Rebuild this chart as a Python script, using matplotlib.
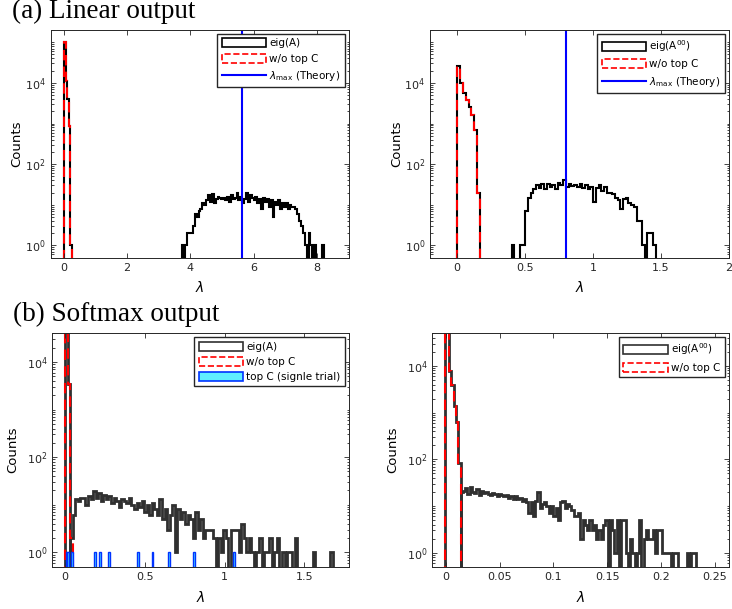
import numpy as np
import matplotlib
matplotlib.use('Agg')
import matplotlib.pyplot as plt
from matplotlib.patches import Patch
from matplotlib.lines import Line2D
from matplotlib.ticker import LogLocator, NullFormatter, FuncFormatter

plt.rcParams['font.family'] = ['DejaVu Sans']
plt.rcParams['mathtext.fontset'] = 'dejavusans'

# ---- (a) Linear output, left : eig(A) ----
tl_spike_start, tl_spike_w = 0.0, 0.05
tl_spike = [1e5, 1.1e4, 4e3, 850, 1]            # also "w/o top C"
tl_bulk_start, tl_bulk_w = 3.72, 0.06
tl_bulk = [1, 0, 1, 2, 2, 2, 3, 6, 5, 7, 8, 11, 10, 13, 17, 12, 18, 11, 14, 16,
           15, 14, 15, 13, 16, 12, 17, 14, 15, 19, 13, 16, 11, 14, 19, 12, 17, 15, 13, 16,
           11, 14, 8, 15, 12, 14, 9, 13, 5, 12, 10, 13, 8, 11, 9, 11, 8, 10, 9, 9,
           8, 6, 4, 3, 2, 1, 0, 2, 1, 0, 1, 0, 0, 0, 1]
tl_theory = 5.62

# ---- (a) Linear output, right : eig(A^00) ----
tr_spike_start, tr_spike_w = 0.0, 0.021
tr_spike = [2.6e4, 9.7e3, 5.6e3, 3.8e3, 2.5e3, 1.6e3, 700, 20]
tr_bulk_start, tr_bulk_w = 0.40, 0.02
tr_bulk = [1, 0, 0, 1, 1, 7, 15, 20, 24, 30, 26, 32, 25, 33, 27, 31, 25, 34, 31, 40,
           28, 33, 29, 31, 27, 33, 26, 30, 24, 28, 12, 26, 30, 22, 27, 20, 19, 18, 15, 13,
           8, 14, 15, 11, 10, 9, 4, 4, 1, 0, 2, 2, 1]
tr_theory = 0.80

# ---- (b) Softmax output, left : eig(A) ----
bl_spike_start, bl_spike_w = 0.0, 0.016
bl_spike = [1e5, 3.5e3]
bl_red = [1e5, 3.5e3, 2]
bl_bulk_start, bl_bulk_w = 0.032, 0.016
bl_bulk = [2, 6, 13, 12, 14, 14, 10, 15, 13, 19, 14, 18, 12, 16, 13, 15, 11, 14, 12, 9,
           13, 12, 11, 14, 10, 8, 11, 9, 12, 7, 10, 6, 11, 8, 6, 13, 5, 8, 3, 6,
           10, 1, 8, 5, 7, 4, 6, 5, 2, 7, 3, 5, 2, 3, 3, 3, 2, 0, 2, 1,
           3, 2, 0, 3, 3, 3, 1, 4, 2, 1, 2, 1, 0, 1, 2, 0, 1, 1, 2, 0,
           1, 2, 0, 1, 0, 1, 1, 0, 2, 0, 0, 0, 0, 0, 0, 1, 0, 0, 0, 0,
           0, 0, 1]
bl_topc = [0.010, 0.020, 0.045, 0.188, 0.220, 0.276, 0.460, 0.548, 0.653, 0.806, 1.057]
bl_topc_counts = [1, 1, 1, 1, 1, 1, 1, 1, 1, 1, 1]
bl_topc_w = 0.012

# ---- (b) Softmax output, right : eig(A^00) ----
br_spike_start, br_spike_w = -0.001, 0.0021
br_spike = [2e5, 6e4, 7.8e3, 4e3, 1.4e3, 620, 83]
br_bulk_start, br_bulk_w = 0.0137, 0.0021
br_bulk = [20, 21, 24, 18, 25, 20, 19, 23, 17, 21, 19, 20, 18, 17, 19, 18, 16, 18, 17, 16,
           17, 15, 16, 14, 16, 14, 15, 13, 14, 12, 7, 12, 6, 13, 20, 9, 11, 12, 10, 7,
           10, 6, 9, 5, 12, 13, 9, 11, 10, 8, 6, 6, 7, 2, 5, 4, 3, 5, 3, 4,
           2, 3, 2, 4, 5, 0, 5, 3, 1, 5, 0, 5, 5, 1, 0, 2, 1, 0, 1, 5,
           0, 2, 3, 2, 2, 3, 1, 3, 3, 1, 1, 1, 1, 0, 1, 1, 0, 0, 0, 0,
           1, 0, 1, 1]

FLOOR = 1e-2


def hist(ax, start, width, counts, **kw):
    counts = np.asarray(counts, dtype=float)
    edges = start + width * np.arange(len(counts) + 1)
    ax.stairs(np.maximum(counts, FLOOR), edges, baseline=FLOOR, **kw)


def style(ax, xlim, ylim, xticks, ylab_x, xlab_y):
    ax.set_yscale('log')
    ax.set_xlim(*xlim)
    ax.set_ylim(*ylim)
    ax.set_xticks(xticks)
    ax.xaxis.set_major_formatter(FuncFormatter(lambda v, p: '%g' % v))
    ax.set_yticks([1, 1e2, 1e4])
    ax.yaxis.set_minor_locator(LogLocator(base=10, subs=np.arange(1, 10), numticks=100))
    ax.yaxis.set_minor_formatter(NullFormatter())
    ax.tick_params(which='both', direction='in', top=True, right=True,
                   labelsize=8, colors='#262626', width=0.6)
    ax.tick_params(which='major', length=3.5)
    ax.tick_params(which='minor', length=1.8)
    for s in ax.spines.values():
        s.set_color('#262626')
        s.set_linewidth(0.7)
    ax.set_ylabel('Counts', fontsize=9.5)
    ax.set_xlabel(r'$\lambda$', fontsize=10)
    ax.yaxis.set_label_coords(ylab_x, 0.5)
    ax.xaxis.set_label_coords(0.5, xlab_y)


W, H = 732, 609
fig = plt.figure(figsize=(W / 100, H / 100), dpi=100)


def add_axes(l, r, t, b):
    return fig.add_axes([l / W, 1 - b / H, (r - l) / W, (b - t) / H])


ax_tl = add_axes(50.7, 349, 30, 257.7)
ax_tr = add_axes(430, 729, 30, 257.7)
ax_bl = add_axes(52.3, 349, 333.3, 566.7)
ax_br = add_axes(432.3, 729, 333.3, 566.7)

red_kw = dict(color='red', lw=1.5, linestyle=(0, (5, 3)))
blk_top = dict(color='black', lw=1.5)
blk_bot = dict(color='#303030', lw=2.0)

leg_kw = dict(loc='upper right', fontsize=7.5, handlelength=4.3, handleheight=0.95,
              handletextpad=0.3, labelspacing=0.5, borderpad=0.4, borderaxespad=0.4,
              fancybox=False, edgecolor='#262626', framealpha=1)

# top-left
hist(ax_tl, tl_spike_start, tl_spike_w, tl_spike, **blk_top)
hist(ax_tl, tl_bulk_start, tl_bulk_w, tl_bulk, **blk_top)
hist(ax_tl, tl_spike_start, tl_spike_w, tl_spike, **red_kw)
ax_tl.axvline(tl_theory, color='#0000ff', lw=1.5)
style(ax_tl, (-0.42, 9.02), (0.5, 2e5), [0, 2, 4, 6, 8], -0.093, -0.10)
ax_tl.legend(handles=[Patch(facecolor='white', edgecolor='black', lw=1.2),
                      Patch(facecolor='white', edgecolor='red', lw=1.2, linestyle='--'),
                      Line2D([], [], color='#0000ff', lw=1.5)],
             labels=['eig(A)', 'w/o top C', r'$\lambda_{\rm max}$ (Theory)'], **leg_kw)

# top-right
hist(ax_tr, tr_spike_start, tr_spike_w, tr_spike, **blk_top)
hist(ax_tr, tr_bulk_start, tr_bulk_w, tr_bulk, **blk_top)
hist(ax_tr, tr_spike_start, tr_spike_w, tr_spike, **red_kw)
ax_tr.axvline(tr_theory, color='#0000ff', lw=1.5)
style(ax_tr, (-0.2, 2.0), (0.5, 2e5), [0, 0.5, 1, 1.5, 2], -0.09, -0.10)
ax_tr.legend(handles=[Patch(facecolor='white', edgecolor='black', lw=1.2),
                      Patch(facecolor='white', edgecolor='red', lw=1.2, linestyle='--'),
                      Line2D([], [], color='#0000ff', lw=1.5)],
             labels=[r'eig(A$^{00}$)', 'w/o top C', r'$\lambda_{\rm max}$ (Theory)'], **leg_kw)

# bottom-left
hist(ax_bl, bl_spike_start, bl_spike_w, bl_spike, **blk_bot)
hist(ax_bl, bl_bulk_start, bl_bulk_w, bl_bulk, **blk_bot)
hist(ax_bl, bl_spike_start, bl_spike_w, bl_red, **red_kw)
ax_bl.bar(bl_topc, bl_topc_counts, width=bl_topc_w, bottom=FLOOR,
          facecolor='#4de6ff', edgecolor='#0033ff', lw=1.0, zorder=3)
style(ax_bl, (-0.08, 1.78), (0.5, 4e4), [0, 0.5, 1, 1.5], -0.112, -0.10)
ax_bl.legend(handles=[Patch(facecolor='white', edgecolor='#303030', lw=1.2),
                      Patch(facecolor='white', edgecolor='red', lw=1.2, linestyle='--'),
                      Patch(facecolor='#5ff0ff', edgecolor='#0033ff', lw=1.2)],
             labels=['eig(A)', 'w/o top C', 'top C (signle trial)'], **leg_kw)

# bottom-right
hist(ax_br, br_spike_start, br_spike_w, br_spike, **blk_bot)
hist(ax_br, br_bulk_start, br_bulk_w, br_bulk, **blk_bot)
hist(ax_br, br_spike_start, br_spike_w, br_spike, **red_kw)
style(ax_br, (-0.0125, 0.263), (0.5, 5e4), [0, 0.05, 0.1, 0.15, 0.2, 0.25], -0.112, -0.10)
ax_br.legend(handles=[Patch(facecolor='white', edgecolor='#303030', lw=1.2),
                      Patch(facecolor='white', edgecolor='red', lw=1.2, linestyle='--')],
             labels=[r'eig(A$^{00}$)', 'w/o top C'], **leg_kw)

# panel titles
fig.text(12 / W, 1 - 18 / H, '(a) Linear output', family='Liberation Serif',
         fontsize=19.5, va='baseline', ha='left')
fig.text(13 / W, 1 - 321 / H, '(b) Softmax output', family='Liberation Serif',
         fontsize=19.5, va='baseline', ha='left')

fig.savefig('out.png', dpi=100)
